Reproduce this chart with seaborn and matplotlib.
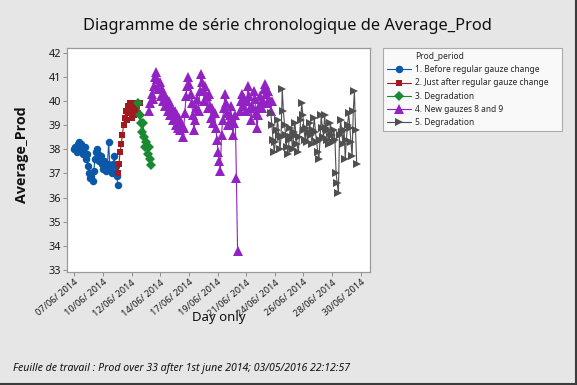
import numpy as np
import pandas as pd
import matplotlib
matplotlib.use("Agg")
import matplotlib.pyplot as plt
import seaborn as sns
from matplotlib.lines import Line2D

# ---------------- data ----------------
periods = ["1. Before regular gauze change",
           "2. Just after regular gauze change",
           "3. Degradation",
           "4. New gauzes 8 and 9",
           "5. Degradation"]

tick_obs = [1, 51, 101, 151, 201, 251, 301, 351, 401, 451, 501]
tick_labels = ["07/06/ 2014", "10/06/ 2014", "12/06/ 2014", "14/06/ 2014",
               "17/06/ 2014", "19/06/ 2014", "21/06/ 2014", "24/06/ 2014",
               "26/06/ 2014", "28/06/ 2014", "30/06/ 2014"]

# observation number of first plotted point and spacing between plotted points
blue_start, blue_step = 1, 2
blue_vals = [38.0, 38.1, 37.9, 38.2, 38.3, 38.0, 38.2, 37.9, 37.8, 38.1,
             37.6, 37.8, 37.3, 37.0, 36.8, 36.9, 36.7, 37.1, 37.6, 37.9,
             38.0, 37.8, 37.5, 37.7, 37.4, 37.2, 37.5, 37.3, 37.1, 37.4,
             38.3, 37.3, 37.1, 37.0, 37.4, 37.7, 37.3, 36.9, 36.5]

red_start, red_step = 77, 2
red_vals = [37.0, 37.4, 37.9, 38.2, 38.6, 39.0, 39.3, 39.6, 39.2, 39.8,
            39.5, 39.9, 39.3, 39.7, 39.4, 39.9, 39.6, 39.8, 39.5, 39.9]

green_start, green_step = 113, 2
green_vals = [39.9, 39.4, 39.1, 38.7, 39.1, 38.5, 38.1, 38.3, 37.8, 38.1,
              37.6, 37.35]

purple_start, purple_step = 132, 2
purple_vals = [39.6, 39.9, 40.3, 40.1, 40.6, 41.0, 41.2, 40.9, 40.5, 40.8,
               40.2, 40.5, 40.0, 40.3, 39.8, 40.1, 39.6, 40.0, 39.4, 39.8,
               39.5, 39.2, 39.6, 39.0, 39.4, 38.9, 39.3, 38.8, 39.1, 38.5,
               38.9,
               39.5, 40.2, 40.6, 41.0, 40.7, 40.3, 39.9, 39.4, 38.8, 39.2,
               39.7, 40.1, 39.6,
               40.4, 41.1, 40.8, 40.4, 40.0, 40.6, 40.2, 39.7, 40.3, 39.8,
               39.3, 39.7, 39.1, 39.5, 38.9,
               38.4, 37.9, 37.5, 37.1,
               38.6, 39.2, 39.7, 40.3, 39.9, 39.5, 39.0, 39.4, 39.8, 39.2,
               38.6, 39.1, 39.4,
               36.8, 33.8, np.nan,
               39.6, 40.0, 40.3, 39.8, 40.1, 39.6, 40.0, 40.6, 40.2, 39.7,
               39.2, 39.8, 40.4, 40.1, 39.5, 38.9, 39.4, 39.8, 40.2, 39.7,
               40.0, 40.5, 40.7, 40.3, 39.9, 40.4, 40.0, 39.6, 40.0]

gray_start, gray_step = 344, 2
gray_vals = [39.5, 39.0, 38.4, 37.9, 38.3, 38.8, 39.2, 38.6, 38.0, 38.5,
             40.5, 39.6,
             39.0, 38.6, 38.1, 37.8, 38.4, 38.9, 38.5, 38.0, 38.7, 39.1,
             38.6, 38.2, 37.9, 38.5,
             39.2, 39.9, 39.4, 38.8,
             38.4, 38.9, 38.3, 38.7, 39.1, 38.6, 38.2, 38.8, 39.3, 38.7,
             38.3, 37.9, 37.6, 38.4,
             39.4, 38.9, 38.5, 39.4, 38.9, 38.4, 38.8, 38.2, 39.1, 38.6,
             38.3, 38.8, 38.4,
             37.0, 36.6, 36.2,
             38.6, 39.2, 38.7, 38.2, 38.8, 37.6, 38.4, 39.0, 39.5, 38.9,
             38.3, 37.7, 39.6, 40.4, 38.8, 37.4]

series = [(blue_start, blue_step, blue_vals),
          (red_start, red_step, red_vals),
          (green_start, green_step, green_vals),
          (purple_start, purple_step, purple_vals),
          (gray_start, gray_step, gray_vals)]

# ---------------- build table ----------------
rows = []
seg_id = 0
for name, (start, step, vals) in zip(periods, series):
    obs = start + step * np.arange(len(vals))
    for o, v in zip(obs, vals):
        if np.isnan(v):
            seg_id += 1
            continue
        rows.append((name, o, v, seg_id))
    seg_id += 1
df = pd.DataFrame(rows, columns=["Prod_period", "obs", "Average_Prod", "seg"])

# ---------------- styling ----------------
colors = ["#0b57a8", "#a01b1f", "#1a8a30", "#9222c2", "#4f4f4f"]
marks = ["o", "s", "D", "^", ">"]
msizes = [5.4, 5.0, 4.8, 6.6, 6.2]
palette = dict(zip(periods, colors))
markers = dict(zip(periods, marks))

sns.set_style("white")
plt.rcParams["font.family"] = ["Noto Sans", "DejaVu Sans"]

bg = "#e6e6e6"
fig = plt.figure(figsize=(5.77, 3.85), dpi=100, facecolor=bg)
ax = fig.add_axes([67.3 / 577, 1 - 271.7 / 385, (370 - 67.3) / 577, (271.7 - 48.3) / 385])
ax.set_facecolor("white")

for name, ms in zip(periods, msizes):
    sub = df[df["Prod_period"] == name]
    sns.lineplot(data=sub, x="obs", y="Average_Prod", units="seg", estimator=None,
                 color=palette[name], marker=markers[name], markersize=ms,
                 markeredgewidth=0, linewidth=0.8, sort=False, legend=False, ax=ax)

ax.set_xlim(-11.2, 517.2)
ax.set_ylim(32.93, 42.18)
ax.set_yticks(range(33, 43))
ax.set_xticks(tick_obs)
ax.set_xticklabels(tick_labels, rotation=40, ha="right", rotation_mode="anchor",
                   fontsize=6.6, color="#1a1a1a")
ax.tick_params(axis="y", labelsize=7.8, labelcolor="#1a1a1a")
ax.tick_params(axis="both", direction="out", length=3, width=0.7, color="#8c8c8c",
               bottom=True, left=True, pad=1.5)
ax.set_xlabel("")
ax.set_ylabel("")
for s in ax.spines.values():
    s.set_color("#9a9a9a")
    s.set_linewidth(0.9)

# texts
fig.text(287 / 577, 1 - 26 / 385, "Diagramme de série chronologique de Average_Prod",
         ha="center", va="center", fontsize=11.8, color="#111111")
fig.text(22 / 577, 1 - 155 / 385, "Average_Prod", rotation=90, ha="center", va="center",
         fontsize=10.3, fontweight="bold", color="#111111",
         family=["Open Sans", "DejaVu Sans"])
fig.text(219 / 577, 1 - 318 / 385, "Day only", ha="center", va="center",
         fontsize=9.5, color="#111111")
fig.text(13 / 577, 1 - 369 / 385,
         "Feuille de travail : Prod over 33 after 1st june 2014; 03/05/2016 22:12:57",
         ha="left", va="center", fontsize=7.6, style="italic", color="#111111")

# legend
handles = [Line2D([], [], linestyle="none", marker=None)]
labels = ["Prod_period"]
for name, c, m, ms in zip(periods, colors, marks, msizes):
    handles.append(Line2D([], [], color=c, marker=m, markersize=ms,
                          markeredgewidth=0, linewidth=0.8))
    labels.append(name)
leg = fig.legend(handles, labels, loc="upper left", mode="expand",
                 bbox_to_anchor=(383.3 / 577, 1 - 131.7 / 385, 178.4 / 577, 83.4 / 385),
                 bbox_transform=fig.transFigure, frameon=True, fontsize=6.05,
                 handlelength=2.9, handletextpad=0.45, labelspacing=0.5,
                 borderpad=0.45, borderaxespad=0, fancybox=False)
leg.get_frame().set_edgecolor("#9a9a9a")
leg.get_frame().set_linewidth(0.8)
leg.get_frame().set_facecolor("white")

# outer frame (right and bottom edge)
fig.add_artist(Line2D([0.9975, 0.9975], [0, 1], transform=fig.transFigure,
                      color="#3c3c3c", linewidth=1.5))
fig.add_artist(Line2D([0, 1], [0.0025, 0.0025], transform=fig.transFigure,
                      color="#3c3c3c", linewidth=1.5))

fig.savefig("out.png", dpi=100, facecolor=bg)
